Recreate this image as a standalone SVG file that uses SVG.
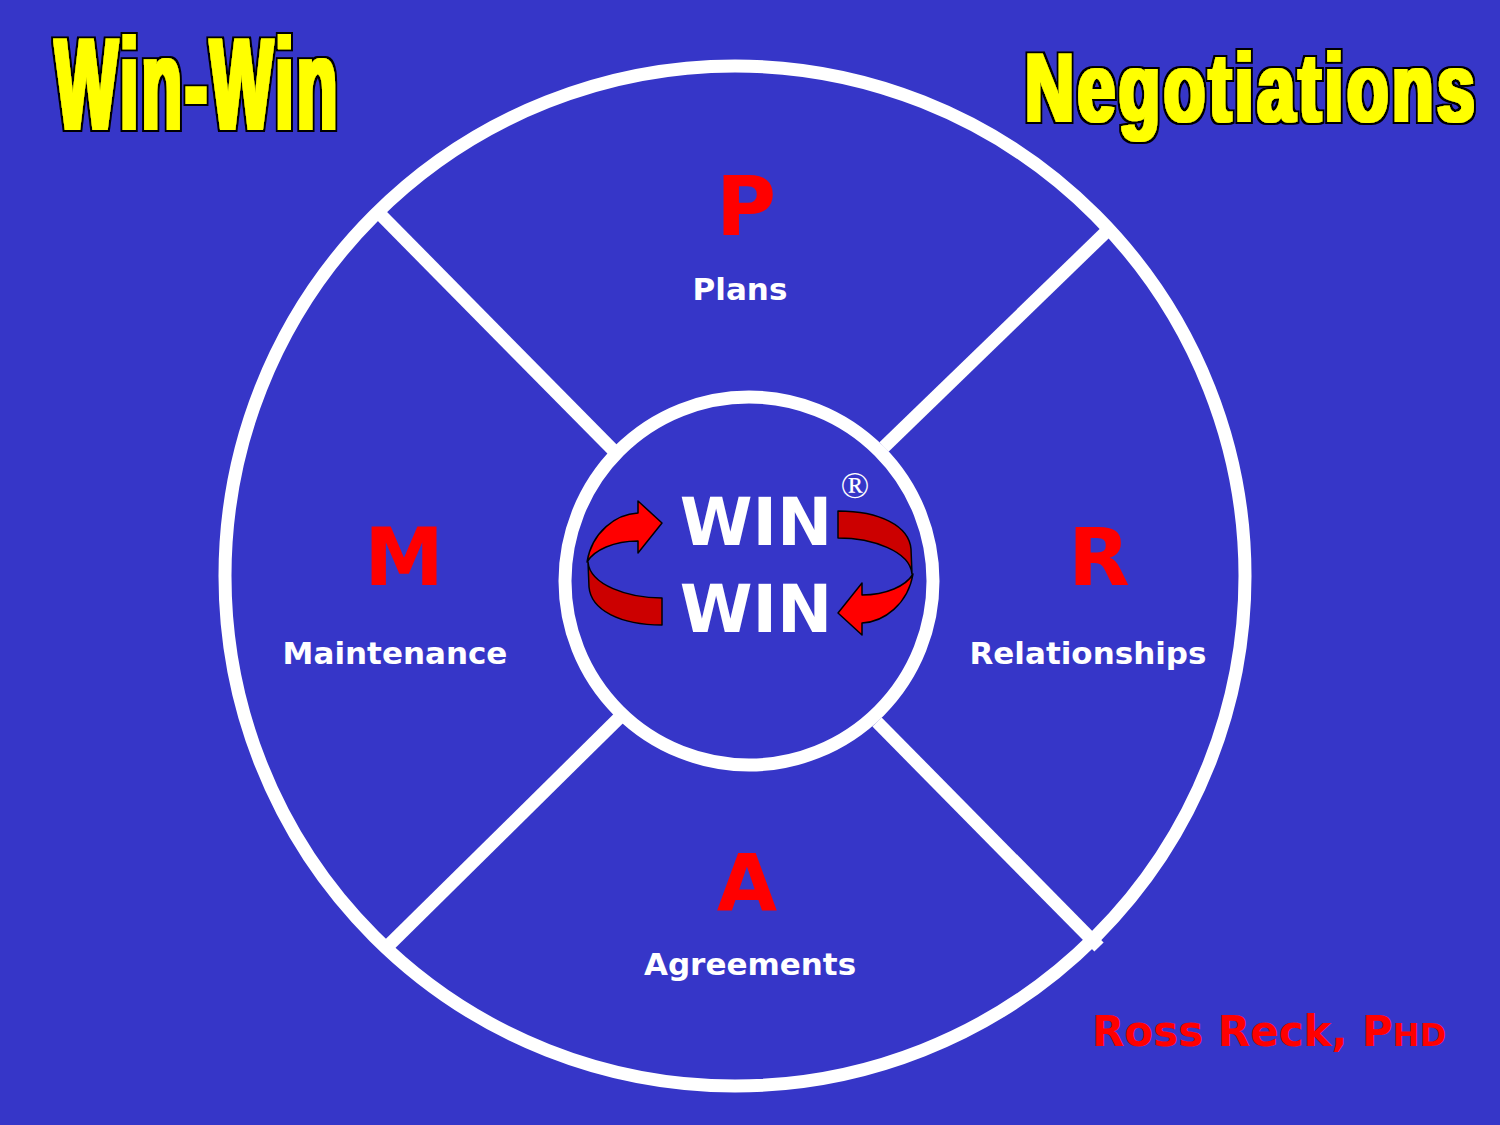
<svg xmlns="http://www.w3.org/2000/svg" width="1500" height="1125" viewBox="0 0 1500 1125">
<defs>
<style>
.ring{fill:none;stroke:#fff;stroke-width:13}
.spoke{stroke:#fff;stroke-width:13;stroke-linecap:butt}
.big{font-family:"DejaVu Sans",sans-serif;font-weight:bold;fill:#ff0000;text-anchor:middle}
.lbl{font-family:"DejaVu Sans",sans-serif;font-weight:bold;fill:#fff;text-anchor:middle;font-size:31px}
.win{font-family:"DejaVu Sans",sans-serif;font-weight:bold;fill:#fff;text-anchor:middle;font-size:66px}
.title{font-family:"Liberation Sans",Arial,sans-serif;font-weight:bold;fill:#ffff00}
.front{fill:#ff0000;stroke:#000;stroke-width:1.5;stroke-linejoin:round}
.back{fill:#cc0000;stroke:#000;stroke-width:1.5;stroke-linejoin:round}
</style>
<filter id="thick" x="-5%" y="-10%" width="110%" height="120%">
<feMorphology in="SourceAlpha" operator="dilate" radius="1.5 0.5" result="y"/>
<feFlood flood-color="#ffff00"/>
<feComposite in2="y" operator="in" result="yel"/>
<feMorphology in="SourceAlpha" operator="dilate" radius="3.5 2.5" result="b"/>
<feFlood flood-color="#000000"/>
<feComposite in2="b" operator="in" result="blk"/>
<feMerge><feMergeNode in="blk"/><feMergeNode in="yel"/></feMerge>
</filter>
<g id="rib">
<path class="back" d="M 588,562 C 590,585 628,598 662,598 L 662,625 C 620,625 591,610 589,587 Z"/>
<path class="front" d="M 662,523 L 638,501 L 638,513 C 616,514 592,532 587,562 C 594,550 614,541 638,541 L 638,553 Z"/>
</g>
</defs>
<rect width="1500" height="1125" fill="#3636c8"/>
<g id="titles">
<g filter="url(#thick)"><text class="title" transform="translate(55,129) scale(0.51,1)" font-size="130" letter-spacing="6">Win-Win</text></g>
<g filter="url(#thick)"><text class="title" transform="translate(1025,121) scale(0.7,1)" font-size="97" letter-spacing="5">Negotiations</text></g>
</g>
<g id="outer-circle"><circle class="ring" cx="735" cy="576" r="510"/></g>
<g id="connectors">
<line class="spoke" x1="378" y1="212" x2="614" y2="451"/>
<line class="spoke" x1="1108" y1="230" x2="884" y2="447"/>
<line class="spoke" x1="390" y1="944" x2="620" y2="717"/>
<line class="spoke" x1="877" y1="722" x2="1099" y2="947"/>
</g>
<g id="node-center">
<circle class="ring" cx="749" cy="581" r="184"/>
<text class="win" x="756" y="545">WIN</text>
<text class="win" x="756" y="632">WIN</text>
<text x="855" y="498" font-family="Liberation Serif,serif" font-size="38" fill="#fff" text-anchor="middle">®</text>
<use href="#rib"/>
<use href="#rib" transform="rotate(180 750 568)"/>
</g>
<g id="node-plans">
<text class="big" x="746" y="235" font-size="82">P</text>
<text class="lbl" x="740" y="300">Plans</text>
</g>
<g id="node-maintenance">
<text class="big" x="404" y="585" font-size="80">M</text>
<text class="lbl" x="395" y="664">Maintenance</text>
</g>
<g id="node-relationships">
<text class="big" x="1099" y="585" font-size="80">R</text>
<text class="lbl" x="1088" y="664" font-size="30">Relationships</text>
</g>
<g id="node-agreements">
<text class="big" x="747" y="910" font-size="78">A</text>
<text class="lbl" x="750" y="975">Agreements</text>
</g>
<g id="author">
<text x="1092" y="1046" font-family="DejaVu Sans,sans-serif" font-weight="bold" font-size="42" fill="#ff0000">Ross Reck, P<tspan font-size="32">HD</tspan></text>
</g>
</svg>
